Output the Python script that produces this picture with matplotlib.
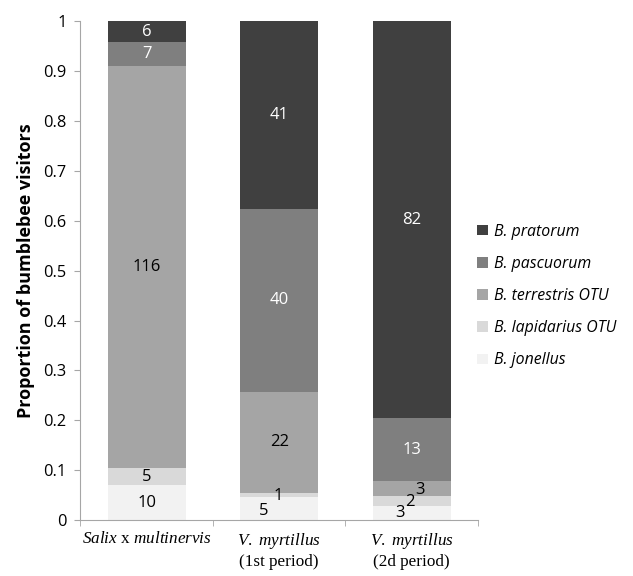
import matplotlib
matplotlib.use("Agg")
import matplotlib.pyplot as plt
import numpy as np

plt.rcParams['mathtext.fontset'] = 'custom'
plt.rcParams['mathtext.it'] = 'Liberation Serif:italic'
plt.rcParams['mathtext.rm'] = 'Liberation Serif'

categories = ["$\\mathit{Salix}$ x $\\mathit{multinervis}$",
              "$\\mathit{V.\\ myrtillus}$\n(1st period)",
              "$\\mathit{V.\\ myrtillus}$\n(2d period)"]
species = ["B. jonellus", "B. lapidarius OTU", "B. terrestris OTU", "B. pascuorum", "B. pratorum"]
jonellus = [10, 5, 3]
lapidarius = [5, 1, 2]
terrestris = [116, 22, 3]
pascuorum = [7, 40, 13]
pratorum = [6, 41, 82]
colors = ["#f2f2f2", "#d9d9d9", "#a5a5a5", "#7f7f7f", "#404040"]
text_colors = ["black", "black", "black", "white", "white"]

counts = np.array([jonellus, lapidarius, terrestris, pascuorum, pratorum], dtype=float)
totals = counts.sum(axis=0)
props = counts / totals

fig = plt.figure(figsize=(6.33, 5.76), dpi=100)
ax = fig.add_axes([0.127, 0.097, 0.628, 0.866])
x = np.arange(3)
bottom = np.zeros(3)
handles = []
for k in range(5):
    b = ax.bar(x, props[k], 0.59, bottom=bottom, color=colors[k], label=species[k], linewidth=0)
    handles.append(b)
    for i in range(3):
        c = int(counts[k, i])
        ypos = bottom[i] + props[k, i] / 2
        xpos = x[i]
        # small segments shifted to avoid overlap
        if i == 1 and k == 0:
            xpos, ypos = x[i] - 0.12, 0.018
        elif i == 1 and k == 1:
            xpos, ypos = x[i] - 0.005, 0.048
        elif i == 2 and k == 0:
            xpos, ypos = x[i] - 0.09, 0.014
        elif i == 2 and k == 1:
            xpos, ypos = x[i] - 0.015, 0.036
        elif i == 2 and k == 2:
            xpos, ypos = x[i] + 0.06, 0.060
        ax.text(xpos, ypos, str(c), ha='center', va='center', fontsize=12,
                color=text_colors[k], family='Open Sans')
    bottom += props[k]

ax.set_xlim(-0.5, 2.5)
ax.set_ylim(0, 1)
ax.set_yticks(np.arange(0, 1.01, 0.1))
ax.set_yticklabels(["0", "0.1", "0.2", "0.3", "0.4", "0.5", "0.6", "0.7", "0.8", "0.9", "1"],
                   family='Open Sans', fontsize=11.8)
ax.set_xticks(x)
ax.set_xticklabels(categories, family='Liberation Serif', fontsize=12.3)
ax.set_xticks([-0.5, 0.5, 1.5, 2.5], minor=True)
ax.tick_params(axis='x', which='major', length=0, pad=8)
ax.tick_params(axis='x', which='minor', length=4, color='#a6a6a6')
ax.tick_params(axis='y', length=4, color='#a6a6a6', pad=6)
for s in ['top', 'right']:
    ax.spines[s].set_visible(False)
for s in ['left', 'bottom']:
    ax.spines[s].set_color('#a6a6a6')
ax.set_ylabel("Proportion of bumblebee visitors", fontsize=13, fontweight='bold',
              family='Open Sans', labelpad=6)

leg = fig.legend(handles[::-1], species[::-1], loc='center left',
                 bbox_to_anchor=(0.754, 0.486), frameon=False, borderpad=0, borderaxespad=0,
                 prop={'family': 'Open Sans', 'style': 'italic', 'size': 11.4},
                 handlelength=0.65, handleheight=0.65, labelspacing=1.02, handletextpad=0.4)

fig.savefig("out.png", dpi=100)
